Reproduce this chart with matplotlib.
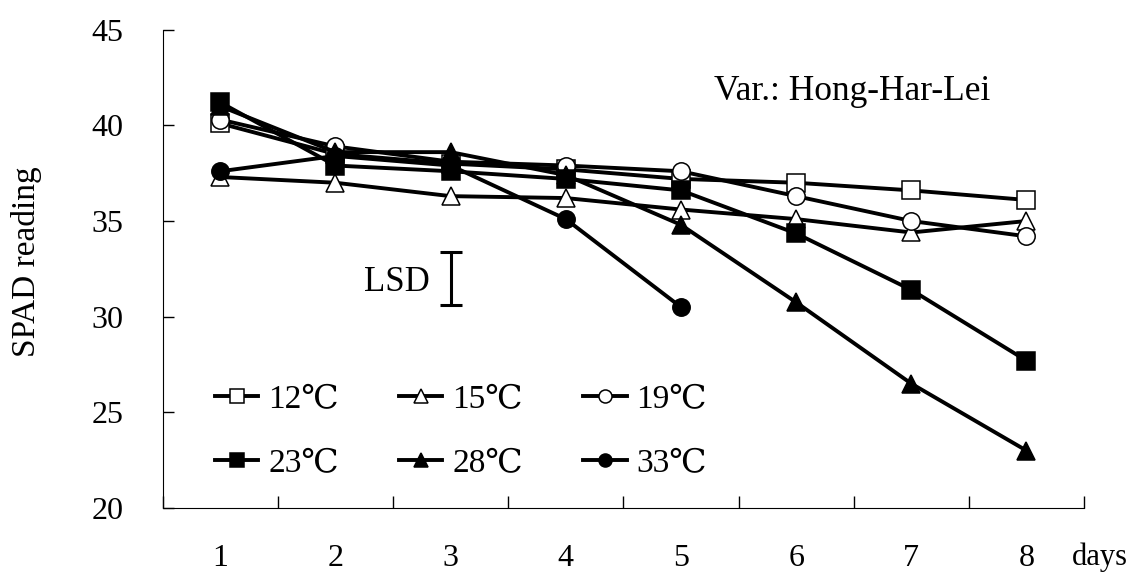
import numpy as np
import matplotlib
matplotlib.use('Agg')
import matplotlib.pyplot as plt

plt.rcParams['font.family'] = ['Liberation Serif', 'DejaVu Serif', 'Noto Sans CJK TC']

# values (SPAD reading per day)
days = [1, 2, 3, 4, 5, 6, 7, 8]
day_labels = ['1', '2', '3', '4', '5', '6', '7', '8']
t12 = [40.1, 38.5, 38.0, 37.7, 37.2, 37.0, 36.6, 36.1]
t15 = [37.3, 37.0, 36.3, 36.2, 35.6, 35.1, 34.4, 35.0]
t19 = [40.3, 38.9, 38.1, 37.9, 37.6, 36.3, 35.0, 34.2]
t23 = [41.2, 37.9, 37.6, 37.2, 36.6, 34.35, 31.4, 27.7]
t28 = [41.0, 38.6, 38.6, 37.4, 34.8, 30.75, 26.5, 23.0]
t33 = [37.6, 38.4, 37.9, 35.1, 30.5]
series_names = ['12℃', '15℃', '19℃', '23℃', '28℃', '33℃']
lsd_day = 3
lsd_center = 32.0
lsd_half = 1.38

fig = plt.figure(figsize=(11.33, 5.72), dpi=100)
ax = fig.add_axes([0.1436, 0.1119, 0.8132, 0.8362])

styles = [('s', 'white'), ('^', 'white'), ('o', 'white'),
          ('s', 'black'), ('^', 'black'), ('o', 'black')]
data = [t12, t15, t19, t23, t28, t33]

handles = []
for vals, (mk, fc), name in zip(data, styles, series_names):
    ms = 12.5 if mk != '^' else 13
    h, = ax.plot(days[:len(vals)], vals, color='black', lw=2.8,
                 marker=mk, ms=ms, mfc=fc, mec='black', mew=1.1,
                 label=name, solid_joinstyle='miter')
    handles.append(h)

# LSD bar
ax.errorbar([lsd_day], [lsd_center], yerr=[lsd_half], fmt='none',
            ecolor='black', elinewidth=2.2, capsize=8, capthick=2.2)
ax.text(2.82, lsd_center, 'LSD', ha='right', va='center_baseline', fontsize=25)

ax.text(5.29, 41.34, 'Var.: Hong-Har-Lei', ha='left', va='baseline', fontsize=25.5)

ax.set_xlim(0.5, 8.5)
ax.set_ylim(20, 45)
ax.set_yticks([20, 25, 30, 35, 40, 45])
ax.set_xticks(days)
ax.set_xticklabels(day_labels)
ax.set_xticks(np.arange(0.5, 9.0, 1.0), minor=True)
ax.tick_params(axis='x', which='major', length=0, pad=26, labelsize=23)
ax.tick_params(axis='x', which='minor', direction='in', length=9, width=1)
ax.tick_params(axis='y', direction='in', length=8, width=1, pad=28, labelsize=23)
ax.spines['top'].set_visible(False)
ax.spines['right'].set_visible(False)

fig.text(27 / 1133, 1 - 262 / 572, 'SPAD reading', rotation=90,
         ha='center', va='center', fontsize=24)
fig.text(1100 / 1133, 1 - 565 / 572, 'days', ha='center', va='baseline', fontsize=22)

# legend filled row by row
order = [0, 3, 1, 4, 2, 5]
ax.legend([handles[i] for i in order], [series_names[i] for i in order],
          ncol=3, frameon=False, loc='upper left',
          bbox_to_anchor=(0.0568, 0.258), borderpad=0, borderaxespad=0,
          fontsize=24, handlelength=1.3, handletextpad=0.3,
          columnspacing=1.8, labelspacing=1.0, markerscale=0.75)

fig.savefig('out.png', dpi=100)
